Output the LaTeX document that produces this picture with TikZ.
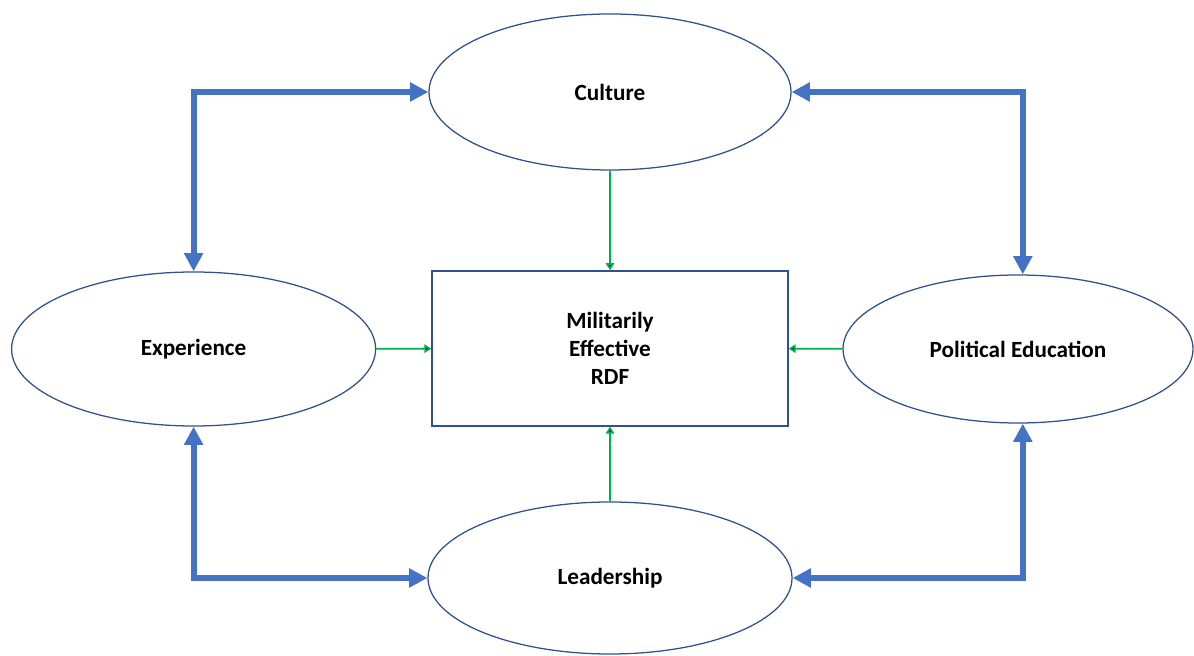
\documentclass[tikz,border=0pt]{standalone}
\usepackage{fontspec}
\setmainfont{Carlito}
\usepackage{tikz}
\usetikzlibrary{arrows.meta, shapes.geometric}

\definecolor{rimblue}{RGB}{47,82,143}
\definecolor{linkblue}{RGB}{68,114,196}
\definecolor{feedgreen}{RGB}{0,176,80}

\begin{document}
\begin{tikzpicture}[main/.style = {draw=rimblue, line width=0.9pt, ellipse, inner sep=0pt,
                    font=\fontsize{16.5}{20}\selectfont\bfseries},
                    box/.style = {draw=rimblue, line width=0.9pt, rectangle, align=center,
                    font=\fontsize{16.5}{20}\selectfont\bfseries},
                    link/.style = {draw=linkblue, line width=4.3pt, {Triangle[length=13pt, width=13pt]}-{Triangle[length=13pt, width=13pt]}},
                    feed/.style = {draw=feedgreen, line width=1.3pt, -{Triangle[length=5pt, width=6pt]}}]
            \useasboundingbox (0,0) rectangle (29.85,16.4);

            \node[box, minimum width=8.9cm, minimum height=3.875cm] (RDF) at (15.25,7.69) {Militarily\\Effective\\RDF};

            \node[main, minimum width=9.05cm, minimum height=3.9cm] (Cult) at (15.25,14.1) {Culture};
            \node[main, minimum width=9.1cm, minimum height=3.8cm] (Lead) at (15.25,1.95) {Leadership};
            \node[main, minimum width=9.1cm, minimum height=3.85cm] (Exp) at (4.84,7.675) {Experience};
            \node[main, minimum width=8.75cm, minimum height=3.7cm] (PolEd) at (25.45,7.675) {Political Education};

            % thick two-way links round the outside
            \draw[link] (Exp.north) |- (Cult.west);
            \draw[link] ([xshift=0.12cm]PolEd.north) |- (Cult.east);
            \draw[link] (Exp.south) |- (Lead.west);
            \draw[link] ([xshift=0.12cm]PolEd.south) |- (Lead.east);

            % thin arrows into the box
            \path[feed] (Cult) edge (RDF);
            \path[feed] (Lead) edge (RDF);
            \path[feed] (Exp) edge (RDF);
            \path[feed] (PolEd) edge (RDF);
        \end{tikzpicture}
\end{document}
